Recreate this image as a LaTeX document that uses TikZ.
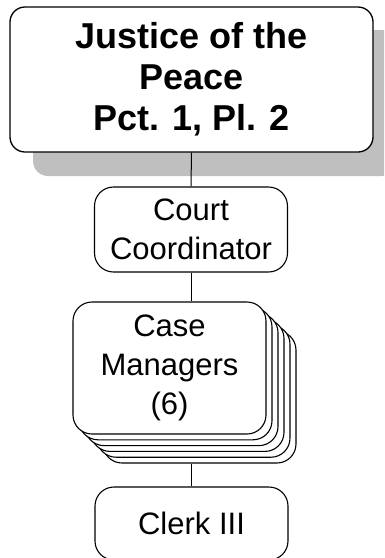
\documentclass[tikz,border=0pt]{standalone}
\usepackage{fontspec}
\setmainfont{Liberation Sans}
\usetikzlibrary{positioning}

\begin{document}
\begin{tikzpicture}[x=1pt,y=-1pt,
			Judge/.style={rectangle,rounded corners=15pt,draw=black,line width=1.3pt,fill=white,minimum width=363pt,minimum height=145pt,align=center,font=\fontsize{36}{41}\selectfont\bfseries},
			Staff/.style={rectangle,rounded corners=19pt,draw=black,line width=1.1pt,fill=white,minimum width=193pt,align=center,font=\fontsize{31}{39}\selectfont},
			]
			
			%frame
			\useasboundingbox (0,0) rectangle (384,558);
			\clip (0,0) rectangle (384,558);
			
			%shadow
			\fill[black!25,rounded corners=15pt] (33,30) rectangle (396,176);
			
			%judge
			\node[Judge] (JP) at (191.5,79.5) {Justice of the\\Peace\\Pct. 1, Pl. 2};
			
			%coordinator
			\node[Staff,minimum height=85pt] (Coord) at (191,229.5) {Court\\Coordinator};
			
			%case managers
			\foreach \k in {5,4,3,2,1}
			{
				\node[Staff,minimum height=132pt] (Case\k) at (169.5+6*\k,368+5.8*\k) {};
			}
			\node[Staff,minimum height=132pt] (Case) at (169.5,368) {Case\\Managers\\(6)};
			
			%clerk
			\node[Staff,minimum height=73pt] (Clerk) at (191.5,523.5) {Clerk III};
			
			\draw[line width=1pt] (JP.south) -- (Coord.north);
			\draw[line width=1pt] (Coord.south) -- (Coord.south |- Case.north);
			\draw[line width=1pt] (Clerk.north) -- (Clerk.north |- Case5.south);
			
	\end{tikzpicture}
\end{document}
